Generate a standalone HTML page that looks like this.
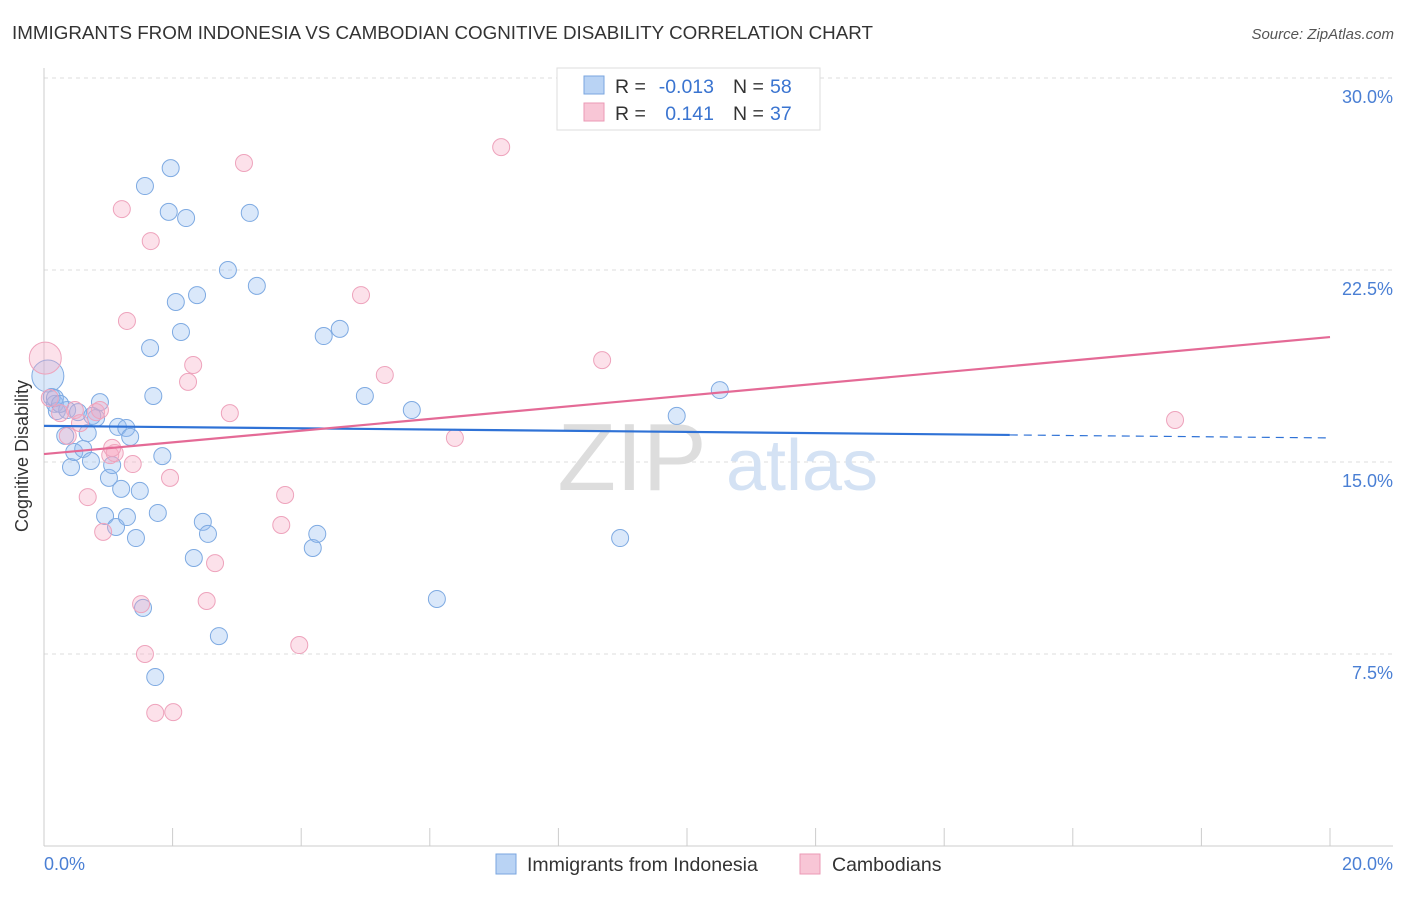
<!DOCTYPE html>
<html><head><meta charset="utf-8"><style>
body{margin:0;background:#fff;font-family:"Liberation Sans",sans-serif;}
svg text{font-family:"Liberation Sans",sans-serif;}
</style></head><body>
<svg id="chart" width="1406" height="892">
<text x="12" y="39" font-size="18.8" fill="#333">IMMIGRANTS FROM INDONESIA VS CAMBODIAN COGNITIVE DISABILITY CORRELATION CHART</text>
<text x="1394" y="39" font-size="15" fill="#555" font-style="italic" text-anchor="end">Source: ZipAtlas.com</text>
<g id="grid"></g>
<g>
<text x="632" y="490" font-size="96" font-family="Liberation Serif,serif" fill="#ddd" text-anchor="middle">ZIP</text>
<text x="802" y="490" font-size="72" fill="#d4e2f4" text-anchor="middle">atlas</text>
</g>
<g id="points"></g>
<g id="trends"></g>
<text x="28" y="456" font-size="18" fill="#333" text-anchor="middle" transform="rotate(-90 28 456)">Cognitive Disability</text>
<g>
<rect x="557" y="68" width="263" height="62" fill="#fff" stroke="#ddd"/>
<rect x="584" y="76" width="20" height="18" fill="#b9d3f4" stroke="#7aa6df"/>
<rect x="584" y="103" width="20" height="18" fill="#f8c6d6" stroke="#eb9ab5"/>
<text x="615" y="93" font-size="19.5" fill="#333">R =</text>
<text x="714" y="93" font-size="19.5" fill="#3a74d0" text-anchor="end">-0.013</text>
<text x="733" y="93" font-size="19.5" fill="#333">N =</text>
<text x="770" y="93" font-size="19.5" fill="#3a74d0">58</text>
<text x="615" y="120" font-size="19.5" fill="#333">R =</text>
<text x="714" y="120" font-size="19.5" fill="#3a74d0" text-anchor="end">0.141</text>
<text x="733" y="120" font-size="19.5" fill="#333">N =</text>
<text x="770" y="120" font-size="19.5" fill="#3a74d0">37</text>
</g>
<g>
<rect x="496" y="854" width="20" height="20" fill="#b9d3f4" stroke="#7aa6df"/>
<text x="527" y="871" font-size="19.5" fill="#333">Immigrants from Indonesia</text>
<rect x="800" y="854" width="20" height="20" fill="#f8c6d6" stroke="#eb9ab5"/>
<text x="832" y="871" font-size="19.5" fill="#333">Cambodians</text>
</g>
</svg>
<script>
const yTicks=[7.5,15,22.5,30];
const yTickLabels=["7.5%","15.0%","22.5%","30.0%"];
const xTickLabels=["0.0%","20.0%"];
const blueX=[0.06,0.12,0.17,0.20,0.33,0.36,0.42,0.47,0.53,0.61,0.68,0.73,0.81,0.87,0.95,1.01,1.06,1.12,1.15,1.20,1.28,1.29,1.34,1.43,1.49,1.54,1.57,1.65,1.70,1.73,1.77,1.84,1.94,1.97,2.05,2.13,2.21,2.33,2.38,2.47,2.55,2.72,2.86,3.20,3.31,4.18,4.25,4.35,4.60,4.99,5.72,6.11,8.96,9.84,10.51,0.17,0.25,0.75];
const blueY=[18.36,17.54,17.27,16.99,16.02,17.03,14.80,15.39,16.95,15.51,16.13,15.04,16.72,17.34,12.89,14.38,14.88,12.46,16.37,13.95,16.33,12.85,15.98,12.03,13.87,9.30,25.78,19.45,17.58,6.60,13.01,15.23,24.77,26.48,21.25,20.08,24.53,11.25,21.52,12.66,12.19,8.20,22.50,24.73,21.88,11.64,12.19,19.92,20.20,17.58,17.03,9.65,12.03,16.80,17.81,17.50,17.27,16.80];
const pinkX=[0.02,0.25,0.37,0.48,0.56,0.68,0.81,0.87,0.92,1.03,1.10,1.21,1.29,1.38,1.51,1.57,1.66,1.73,1.96,2.01,2.24,2.32,2.53,2.66,2.89,3.11,3.69,3.75,3.97,4.93,5.30,6.39,7.11,8.68,17.59,0.09,1.06];
const pinkY=[19.06,16.91,16.02,17.03,16.52,13.63,16.95,17.03,12.27,15.27,15.35,24.88,20.51,14.92,9.45,7.50,23.63,5.20,14.38,5.23,18.13,18.79,9.57,11.05,16.91,26.68,12.54,13.71,7.85,21.52,18.40,15.94,27.30,18.98,16.64,17.50,15.55];
const blueTrend=[16.41,15.94];
const pinkTrend=[15.31,19.88];
const NS="http://www.w3.org/2000/svg";
const sx=v=>44+v/20*1286;
const sy=v=>846-v*25.6;
function mk(t,p,a){const e=document.createElementNS(NS,t);for(const k in a)e.setAttribute(k,a[k]);p.appendChild(e);return e;}
const grid=document.getElementById('grid');
yTicks.forEach((t,i)=>{
 const l=mk('line',grid,{x1:44,x2:1393,y1:sy(t),y2:sy(t),stroke:'#ddd','stroke-dasharray':'4,4'});
 
 
 const tx=mk('text',grid,{x:1393,y:sy(t)+25,'font-size':18,fill:'#4a7fd4','text-anchor':'end'});
 tx.textContent=yTickLabels[i];
 
 
});
mk('line',grid,{x1:44,x2:44,y1:68,y2:846,stroke:'#ccc'});
mk('line',grid,{x1:44,x2:1393,y1:846,y2:846,stroke:'#ccc'});
for(let i=1;i<=10;i++){const l=mk('line',grid,{x1:sx(i*2),x2:sx(i*2),y1:828,y2:846,stroke:'#ccc'});
 
 }
[[0,'start',44],[1,'end',1393]].forEach(([i,a,x])=>{const t=mk('text',grid,{x:x,y:870,'font-size':18,fill:'#4a7fd4','text-anchor':a});t.textContent=xTickLabels[i];
 
 });
const pts=document.getElementById('points');
blueX.forEach((x,i)=>{const c=mk('circle',pts,{cx:sx(x),cy:sy(blueY[i]),r:i==0?16:8.5,fill:'rgba(150,190,240,0.35)',stroke:'#7eaae2','stroke-width':1});
 
 });
pinkX.forEach((x,i)=>{const c=mk('circle',pts,{cx:sx(x),cy:sy(pinkY[i]),r:i==0?16:8.5,fill:'rgba(245,170,195,0.35)',stroke:'#eea3bc','stroke-width':1});
 
 });
const tr=document.getElementById('trends');
const bAt=x=>blueTrend[0]+(blueTrend[1]-blueTrend[0])*x/20;
let b1=mk('line',tr,{x1:sx(0),y1:sy(bAt(0)),x2:sx(15.02),y2:sy(bAt(15.02)),stroke:'#2f72d6','stroke-width':2.2});


let b2=mk('line',tr,{x1:sx(15.02),y1:sy(bAt(15.02)),x2:sx(20),y2:sy(bAt(20)),stroke:'#2f72d6','stroke-width':1.2,'stroke-dasharray':'8,6'});


let p1=mk('line',tr,{x1:sx(0),y1:sy(pinkTrend[0]),x2:sx(20),y2:sy(pinkTrend[1]),stroke:'#e46a96','stroke-width':2.2});


</script>
</body></html>
